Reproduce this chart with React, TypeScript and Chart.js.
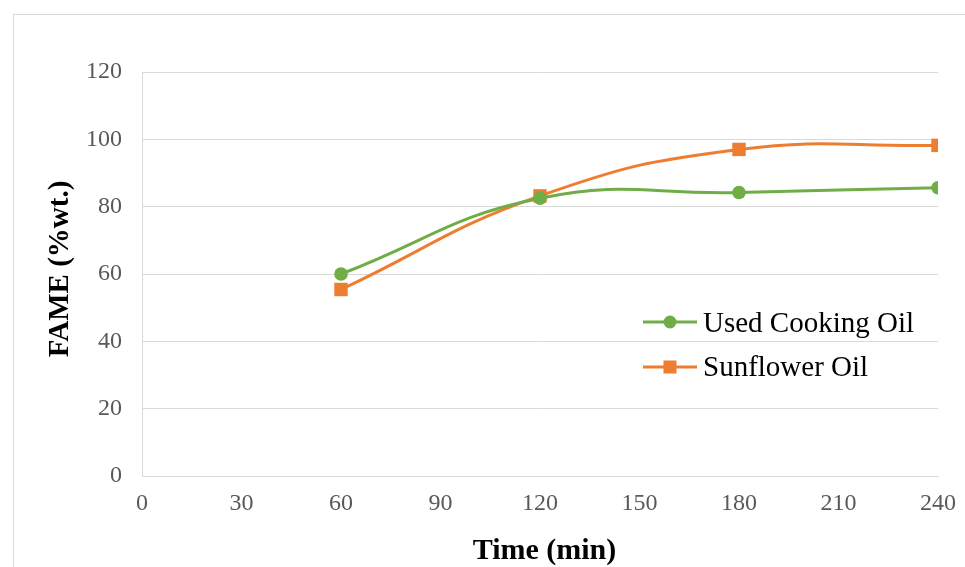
import React, { useEffect, useRef } from 'react';
import { Chart, registerables } from 'chart.js';

Chart.register(...registerables);

const timeMin = [60, 120, 180, 240];
const usedCookingOil = [60, 82.5, 84.2, 85.6];
const sunflowerOil = [55.4, 83.2, 97.0, 98.2];
const seriesNames = ['Used Cooking Oil', 'Sunflower Oil'];
const seriesColors = ['#70AD47', '#ED7D31'];
const xTitle = 'Time (min)';
const yTitle = 'FAME (%wt.)';

const SERIF = '"Liberation Serif", "Times New Roman", serif';

const decorPlugin = {
  id: 'decor',
  beforeDraw(chart: any) {
    const ctx = chart.ctx;
    ctx.save();
    ctx.strokeStyle = '#d9d9d9';
    ctx.lineWidth = 1;
    ctx.strokeRect(13.5, 14.5, 3000, 3000);
    ctx.restore();
  },
  afterDraw(chart: any) {
    const ctx = chart.ctx;
    ctx.save();
    // axis titles
    ctx.fillStyle = '#000000';
    ctx.font = 'bold 30px ' + SERIF;
    ctx.textAlign = 'center';
    ctx.textBaseline = 'alphabetic';
    ctx.fillText(xTitle, 544.5, 559);
    ctx.font = 'bold 29px ' + SERIF;
    ctx.save();
    ctx.translate(68, 269);
    ctx.rotate(-Math.PI / 2);
    ctx.fillText(yTitle, 0, 0);
    ctx.restore();

    // legend
    const rows = [
      { y: 322, base: 332 },
      { y: 367, base: 376 },
    ];
    rows.forEach((r, i) => {
      ctx.strokeStyle = seriesColors[i];
      ctx.lineWidth = 3;
      ctx.beginPath();
      ctx.moveTo(643, r.y);
      ctx.lineTo(697, r.y);
      ctx.stroke();
      ctx.fillStyle = seriesColors[i];
      if (i === 0) {
        ctx.beginPath();
        ctx.arc(670, r.y, 6.5, 0, Math.PI * 2);
        ctx.fill();
      } else {
        ctx.fillRect(670 - 6.5, r.y - 6.5, 13, 13);
      }
      ctx.fillStyle = '#000000';
      ctx.font = '29px ' + SERIF;
      ctx.textAlign = 'left';
      ctx.fillText(seriesNames[i], 703, r.base);
    });
    ctx.restore();
  },
};

export default function App() {
  const ref = useRef<HTMLCanvasElement | null>(null);

  useEffect(() => {
    if (!ref.current) return;
    const chart = new Chart(ref.current, {
      type: 'line',
      data: {
        datasets: [
          {
            label: seriesNames[0],
            data: timeMin.map((t, i) => ({ x: t, y: usedCookingOil[i] })),
            borderColor: seriesColors[0],
            backgroundColor: seriesColors[0],
            borderWidth: 3,
            pointStyle: 'circle',
            pointRadius: 6.8,
            pointBorderWidth: 0,
            tension: 0.45,
          },
          {
            label: seriesNames[1],
            data: timeMin.map((t, i) => ({ x: t, y: sunflowerOil[i] })),
            borderColor: seriesColors[1],
            backgroundColor: seriesColors[1],
            borderWidth: 3,
            pointStyle: 'rect',
            pointRadius: 9.5,
            pointBorderWidth: 0,
            tension: 0.45,
          },
        ],
      },
      options: {
        animation: false,
        responsive: false,
        layout: { padding: { left: 0, top: 72, right: 27, bottom: 0 } },
        plugins: {
          legend: { display: false },
          tooltip: { enabled: false },
        },
        scales: {
          x: {
            type: 'linear',
            min: 0,
            max: 240,
            ticks: {
              stepSize: 30,
              color: '#595959',
              font: { family: SERIF, size: 24 },
              padding: 13,
            },
            grid: { display: false, drawTicks: false },
            border: { display: true, color: '#d9d9d9', width: 1 },
            afterFit: (s: any) => {
              s.height = 91;
              s.paddingLeft = 0;
              s.paddingRight = 0;
            },
          },
          y: {
            min: 0,
            max: 120,
            ticks: {
              stepSize: 20,
              color: '#595959',
              font: { family: SERIF, size: 24 },
              padding: 20,
            },
            grid: { color: '#d9d9d9', lineWidth: 1, drawTicks: false },
            border: { display: true, color: '#d9d9d9', width: 1 },
            afterFit: (s: any) => {
              s.width = 142;
              s.paddingTop = 0;
              s.paddingBottom = 0;
            },
          },
        },
      },
      plugins: [decorPlugin],
    } as any);
    return () => chart.destroy();
  }, []);

  return (
    <div style={{ position: 'fixed', left: 0, top: 0, width: 965, height: 567, background: '#ffffff' }}>
      <canvas ref={ref} width={965} height={567} />
    </div>
  );
}
